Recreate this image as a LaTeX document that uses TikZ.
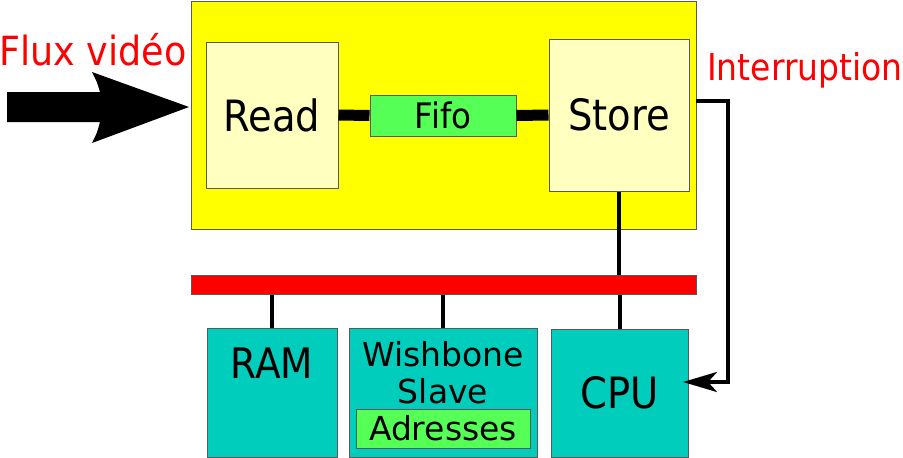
\documentclass[tikz,border=0pt]{standalone}
\usepackage{fontspec}
\setmainfont{DejaVu Sans}
\usepackage{tikz}
\usetikzlibrary{arrows.meta}
\definecolor{fpgayellow}{RGB}{255,255,0}
\definecolor{paleyellow}{RGB}{255,255,192}
\definecolor{fifogreen}{RGB}{85,255,85}
\definecolor{socteal}{RGB}{0,205,187}
\definecolor{busred}{RGB}{255,0,0}
\tikzset{
  block/.style = {draw=black!65, line width=1pt, inner sep=0pt},
  wire/.style = {line width=4pt},
  fat wire/.style = {line width=11pt}
}
\newcommand{\Fs}[1]{\fontsize{#1}{#1}\selectfont}
\newcommand{\Tall}[2][1.12]{\scalebox{1}[#1]{#2}}

\begin{document}
\begin{tikzpicture}[x=1pt,y=-1pt]
\useasboundingbox (0,0) rectangle (903,458);
% FPGA part
\node[block, fill=fpgayellow, minimum width=505pt, minimum height=228pt] (fpga) at (443.5,115) {};
\node[block, fill=paleyellow, minimum width=132pt, minimum height=146pt, font=\Fs{38.5}] (read) at (272,115) {\Tall{Read}};
\node[block, fill=paleyellow, minimum width=140pt, minimum height=152pt, font=\Fs{38.5}] (store) at (619,115) {\Tall{Store}};
\node[block, fill=fifogreen, minimum width=146pt, minimum height=41pt, font=\Fs{32.5}] (fifo) at (443,115.5) {\Tall[1.08]{Fifo}};
\draw[fat wire] (read.east) -- (fifo.west);
\draw[fat wire] (fifo.east) -- (store.west);

% video input
\fill (7,92) -- (100,92) .. controls (97,82) .. (92,72) -- (189,107) -- (92,143) .. controls (97,133) .. (100,122) -- (7,122) -- cycle;
\node[red, font=\Fs{36.5}, anchor=base] (flux) at (93,65) {\Tall[1.1]{Flux vidéo}};

% bus
\draw[wire] (store.south) -- (619,275);
\node[block, fill=busred, minimum width=505pt, minimum height=19pt] (bus) at (443.5,284.5) {};

% soc part
\node[block, fill=socteal, minimum width=130pt, minimum height=129pt] (ram) at (272,392.5) {};
\node[font=\Fs{37.5}, anchor=base] (ramtext) at (272,378) {\Tall{RAM}};
\node[block, fill=socteal, minimum width=188pt, minimum height=129pt] (wb) at (443,392.5) {};
\node[font=\Fs{33}, anchor=base] (wbtext) at (443,366) {Wishbone};
\node[font=\Fs{33}, anchor=base] (slavetext) at (443,403) {Slave};
\node[block, fill=fifogreen, minimum width=174pt, minimum height=39pt, font=\Fs{33}] (adr) at (443,428.5) {Adresses};
\node[block, fill=socteal, minimum width=137pt, minimum height=128pt, font=\Fs{38.5}] (cpu) at (619.5,393) {\Tall{CPU}};
\draw[wire] (ram.north) -- (ram.north |- bus.south);
\draw[wire] (wb.north) -- (wb.north |- bus.south);
\draw[wire] (cpu.north) -- (cpu.north |- bus.south);

% interrupt
\coordinate (irq) at (696,101);
\coordinate (bend) at (728,382);
\coordinate (cpuin) at (683,382);
\draw[wire, -{Stealth[length=34pt, width=20pt, inset=9pt]}] (irq) -| (bend) -- (cpuin);
\node[red, font=\Fs{33}, anchor=base] (irqtext) at (805,80) {\Tall{Interruption}};
\end{tikzpicture}
\end{document}
